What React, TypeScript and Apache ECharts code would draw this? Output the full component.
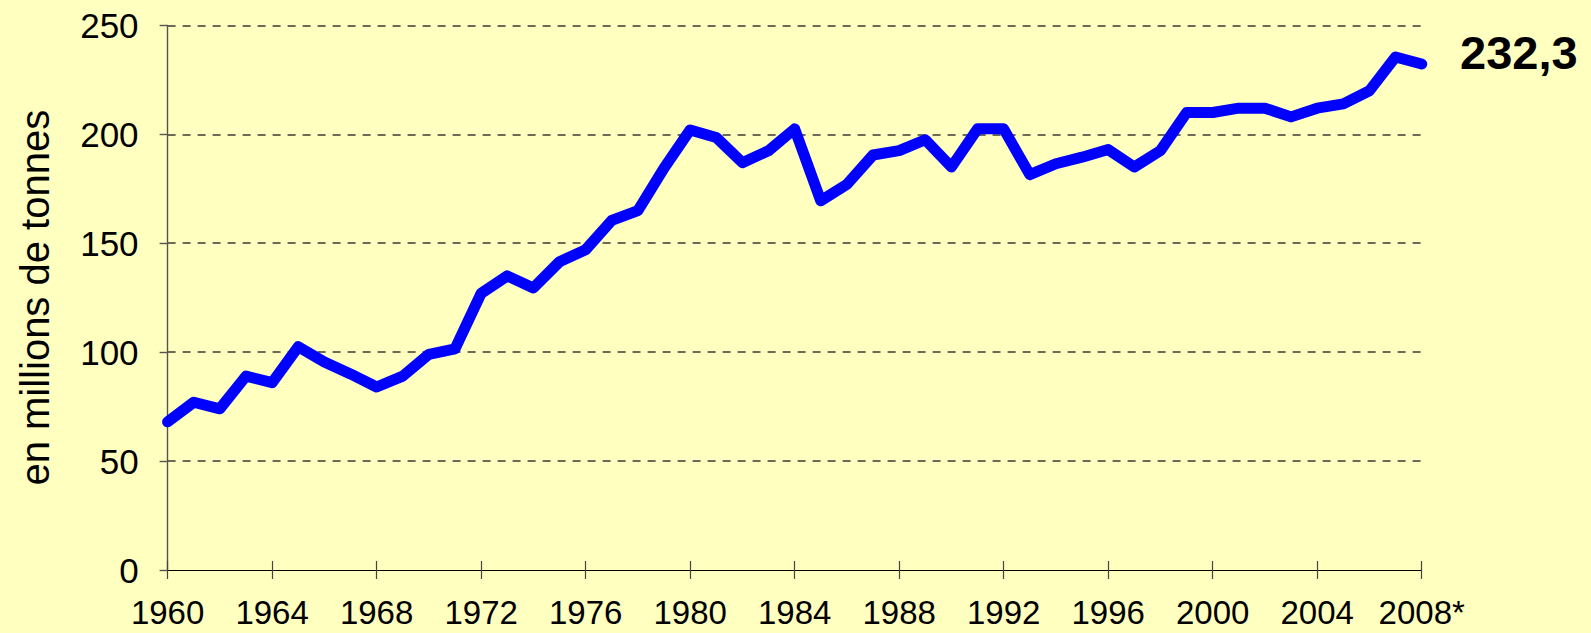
import React, { useEffect, useRef } from "react";
import * as echarts from "echarts";

const years: string[] = [
  "1960", "1961", "1962", "1963", "1964", "1965", "1966", "1967", "1968", "1969",
  "1970", "1971", "1972", "1973", "1974", "1975", "1976", "1977", "1978", "1979",
  "1980", "1981", "1982", "1983", "1984", "1985", "1986", "1987", "1988", "1989",
  "1990", "1991", "1992", "1993", "1994", "1995", "1996", "1997", "1998", "1999",
  "2000", "2001", "2002", "2003", "2004", "2005", "2006", "2007", "2008",
];

const production: number[] = [
  68, 77, 74, 89, 86, 102.5, 95.5, 90, 84, 89,
  99, 101.5, 127, 135, 129.5, 141.5, 147, 160.5, 165, 184.5,
  202, 198.5, 187, 192.5, 202.5, 169.5, 177, 190.5, 192.5, 197.5,
  185, 202.5, 202.5, 181.5, 186.5, 189.5, 193, 185, 192.5, 210,
  210, 212, 212, 208, 212, 214, 220, 235.5, 232.3,
];

const provisionalYear = "2008";
const yAxisTitle = "en millions de tonnes";

const FONT = "'Liberation Sans', Arial, sans-serif";
const GRID_COLOR = "#6E6A55";

export default function App() {
  const ref = useRef<HTMLDivElement>(null);

  useEffect(() => {
    if (!ref.current) return;
    const chart = echarts.init(ref.current, null, { renderer: "svg" });
    const lastValue = production[production.length - 1];
    const lastLabel = lastValue.toFixed(1).replace(".", ",");

    chart.setOption({
      animation: false,
      backgroundColor: "#FFFFC0",
      grid: { left: 167.6, right: 169.3, top: 25.4, bottom: 63, containLabel: false },
      xAxis: [
        {
          type: "category",
          data: years,
          boundaryGap: false,
          position: "bottom",
          axisLine: { show: true, lineStyle: { color: "#000000", width: 1 } },
          axisTick: {
            show: true,
            interval: 3,
            length: 9,
            lineStyle: { color: "#444444", width: 1.2 },
          },
          axisLabel: {
            interval: 3,
            margin: 26,
            fontSize: 33,
            fontFamily: FONT,
            color: "#000000",
            formatter: (v: string) => (v === provisionalYear ? v + "*" : v),
          },
          splitLine: { show: false },
        },
        {
          type: "category",
          data: years,
          boundaryGap: false,
          position: "bottom",
          axisLine: { show: false },
          axisTick: {
            show: true,
            inside: true,
            interval: 3,
            length: 9,
            lineStyle: { color: "#444444", width: 1.2 },
          },
          axisLabel: { show: false },
          splitLine: { show: false },
        },
      ],
      yAxis: {
        type: "value",
        min: 0,
        max: 250,
        interval: 50,
        name: yAxisTitle,
        nameLocation: "middle",
        nameRotate: 90,
        nameGap: 113,
        nameTextStyle: { fontSize: 40, fontFamily: FONT, color: "#000000" },
        axisLine: { show: true, lineStyle: { color: "#555550", width: 1.4 } },
        axisTick: { show: true, length: 8, lineStyle: { color: "#555550", width: 1.4 } },
        axisLabel: { margin: 29, fontSize: 35, fontFamily: FONT, color: "#000000" },
        splitLine: {
          show: true,
          lineStyle: {
            color: ["rgba(0,0,0,0)", GRID_COLOR, GRID_COLOR, GRID_COLOR, GRID_COLOR, GRID_COLOR],
            width: 2,
            type: [8, 7],
          },
        },
      },
      series: [
        {
          type: "line",
          data: production,
          showSymbol: false,
          symbol: "none",
          clip: false,
          lineStyle: { color: "#0000FF", width: 11, cap: "round", join: "round" },
          z: 5,
        },
      ],
      graphic: [
        {
          type: "text",
          left: 1460,
          top: 29,
          style: {
            text: lastLabel,
            fontSize: 47,
            fontWeight: "bold",
            fontFamily: FONT,
            fill: "#000000",
          },
        },
      ],
    });

    return () => chart.dispose();
  }, []);

  return (
    <div
      ref={ref}
      style={{ position: "fixed", left: 0, top: 0, width: 1591, height: 633 }}
    />
  );
}
